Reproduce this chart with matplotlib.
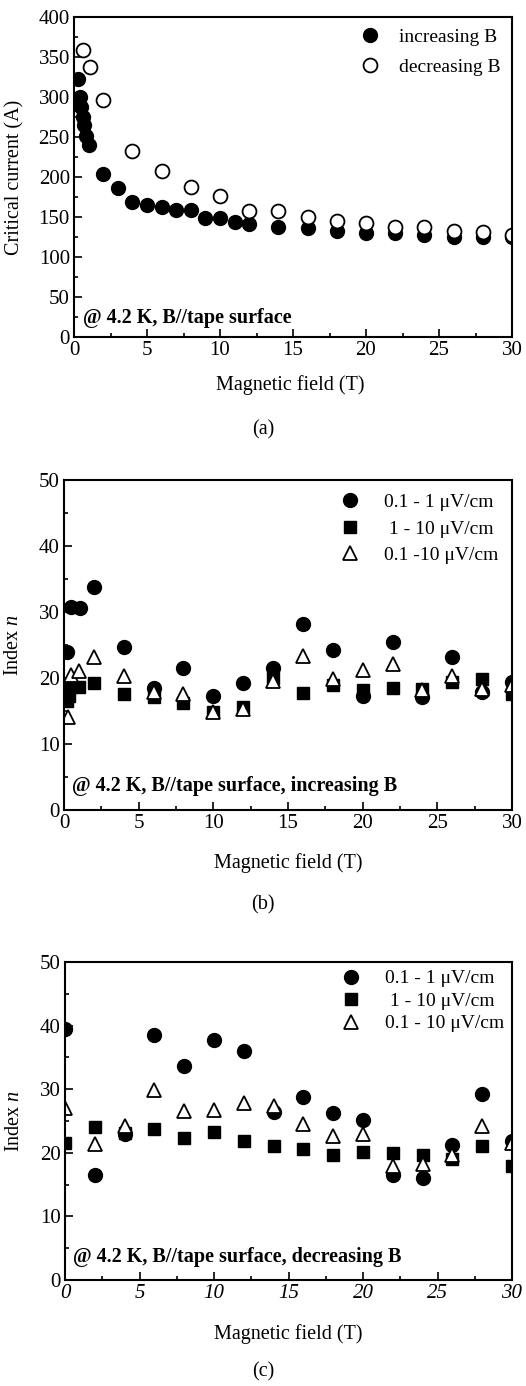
import matplotlib
matplotlib.use("Agg")
import matplotlib.pyplot as plt
from matplotlib.ticker import MultipleLocator

plt.rcParams["font.family"] = ["Liberation Serif", "DejaVu Serif"]
plt.rcParams["mathtext.fontset"] = "custom"
plt.rcParams["mathtext.rm"] = "Liberation Serif"
plt.rcParams["mathtext.it"] = "Liberation Serif:italic"

# ── (a) critical current vs field ────────────────────────────────────────────
B_inc = [0.3, 0.4, 0.5, 0.6, 0.7, 0.8, 1.0, 2, 3, 4, 5, 6, 7, 8, 9, 10, 11, 12,
         14, 16, 18, 20, 22, 24, 26, 28, 30]
Ic_inc = [322, 300, 288, 275, 265, 251, 240, 204, 186, 169, 165, 163, 159, 159,
          149, 149, 144, 141, 138, 136, 133, 130, 130, 128, 125, 125, 125]
B_dec = [0.6, 1.1, 2, 4, 6, 8, 10, 12, 14, 16, 18, 20, 22, 24, 26, 28, 30]
Ic_dec = [359, 338, 296, 233, 208, 188, 176, 157, 157, 150, 145, 142, 138, 137,
          133, 131, 127]

# ── (b) index n, increasing B ────────────────────────────────────────────────
Bb_c = [0.2, 0.5, 1.1, 2, 4, 6, 8, 10, 12, 14, 16, 18, 20, 22, 24, 26, 28, 30]
nb_c = [24.0, 30.8, 30.6, 33.8, 24.7, 18.5, 21.5, 17.3, 19.2, 21.5, 28.2, 24.2,
        17.2, 25.4, 17.1, 23.2, 17.9, 19.4]
Bb_s = [0.2, 0.35, 0.5, 1, 2, 4, 6, 8, 10, 12, 14, 16, 18, 20, 22, 24, 26, 28, 30]
nb_s = [16.5, 17.3, 18.7, 18.6, 19.3, 17.6, 17.1, 16.2, 14.8, 15.6, 20.0, 17.7,
        18.9, 18.2, 18.5, 18.4, 19.4, 19.8, 17.6]
Bb_t = [0.25, 0.5, 1, 2, 4, 6, 8, 10, 12, 14, 16, 18, 20, 22, 24, 26, 28, 30]
nb_t = [14.1, 20.4, 21.1, 23.2, 20.3, 17.9, 17.6, 14.9, 15.3, 19.6, 23.3, 19.8,
        21.2, 22.1, 18.2, 20.3, 18.3, 18.9]

# ── (c) index n, decreasing B ────────────────────────────────────────────────
Bc = [0, 2, 4, 6, 8, 10, 12, 14, 16, 18, 20, 22, 24, 26, 28, 30]
nc_c = [39.4, 16.5, 23.0, 38.6, 33.6, 37.8, 36.0, 26.4, 28.7, 26.2, 25.2, 16.5,
        16.0, 21.2, 29.2, 21.8]
nc_s = [21.5, 24.1, 23.1, 23.7, 22.4, 23.3, 21.8, 21.0, 20.6, 19.6, 20.2, 19.9,
        19.6, 19.1, 21.1, 17.9]
nc_t = [27.1, 21.4, 24.2, 29.9, 26.5, 26.7, 27.9, 27.3, 24.6, 22.6, 23.0, 18.0,
        18.3, 19.6, 24.2, 21.6]

labels_b = ["0.1 - 1 \u03bcV/cm", " 1 - 10 \u03bcV/cm", "0.1 -10 \u03bcV/cm"]
labels_c = ["0.1 - 1 \u03bcV/cm", " 1 - 10 \u03bcV/cm", "0.1 - 10 \u03bcV/cm"]

W, H = 526, 1386
fig = plt.figure(figsize=(W / 100, H / 100), dpi=100)


def px_axes(left, right, top, bottom):
    return fig.add_axes([left / W, 1 - bottom / H, (right - left) / W,
                         (bottom - top) / H])


def style(ax, ymax, ymaj, ymin):
    ax.set_xlim(0, 30)
    ax.set_ylim(0, ymax)
    ax.xaxis.set_major_locator(MultipleLocator(5))
    ax.xaxis.set_minor_locator(MultipleLocator(2.5))
    ax.yaxis.set_major_locator(MultipleLocator(ymaj))
    ax.yaxis.set_minor_locator(MultipleLocator(ymin))
    ax.tick_params(which="both", direction="in", top=False, right=False,
                   labelsize=15, width=1.2)
    ax.tick_params(which="major", length=6, pad=3)
    ax.tick_params(which="minor", length=3)
    for s in ax.spines.values():
        s.set_linewidth(1.5)


ms = 10

# (a)
ax1 = px_axes(74, 512, 17, 337)
ax1.plot(B_inc, Ic_inc, "o", color="black", ms=ms, label="increasing B")
ax1.plot(B_dec, Ic_dec, "o", mfc="white", mec="black", mew=1.3, ms=ms,
         label="decreasing B")
style(ax1, 400, 50, 25)
ax1.set_xlabel("Magnetic field (T)", fontsize=14.5)
ax1.set_ylabel("Critical current (A)", fontsize=14.5)
ax1.xaxis.set_label_coords(0.494, -0.119)
ax1.yaxis.set_label_coords(-0.114, 0.5)
ax1.legend(loc="upper right", frameon=False, fontsize=14, handletextpad=0.9,
           borderaxespad=0.2, labelspacing=0.6, handlelength=1.2)
ax1.text(0.02, 0.06, "@ 4.2 K, B//tape surface", transform=ax1.transAxes,
         fontsize=14.5, fontweight="bold", va="center")
fig.text(263 / W, 1 - 430 / H, "(a)", fontsize=14.5, ha="center", va="center")


def index_panel(ax, xc, yc, xs, ys, xt, yt, labels, note, spacing, pad):
    ax.plot(xc, yc, "o", color="black", ms=ms, label=labels[0])
    ax.plot(xs, ys, "s", color="black", ms=8.5, label=labels[1])
    ax.plot(xt, yt, "^", mfc="white", mec="black", mew=1.3, ms=10.5,
            label=labels[2])
    style(ax, 50, 10, 5)
    ax.set_xlabel("Magnetic field (T)", fontsize=14.5)
    ax.set_ylabel("Index $n$", fontsize=14.5)
    ax.legend(loc="upper right", frameon=False, fontsize=14, handletextpad=1.15,
              borderaxespad=pad, labelspacing=spacing, handlelength=1.2)
    ax.text(0.018, 0.072, note, transform=ax.transAxes, fontsize=14.5,
            fontweight="bold", va="center")


# (b)
ax2 = px_axes(64, 512, 480, 810)
index_panel(ax2, Bb_c, nb_c, Bb_s, nb_s, Bb_t, nb_t, labels_b,
            "@ 4.2 K, B//tape surface, increasing B", 0.45, 0.3)
ax2.xaxis.set_label_coords(0.5, -0.13)
ax2.yaxis.set_label_coords(-0.0915, 0.5)
fig.text(263 / W, 1 - 905 / H, "(b)", fontsize=14.5, ha="center", va="center")

# (c)
ax3 = px_axes(65, 512, 962, 1280)
index_panel(ax3, Bc, nc_c, Bc, nc_s, Bc, nc_t, labels_c,
            "@ 4.2 K, B//tape surface, decreasing B", 0.25, 0.0)
ax3.xaxis.set_label_coords(0.5, -0.138)
ax3.yaxis.set_label_coords(-0.092, 0.5)
for t in ax3.get_xticklabels():
    t.set_fontstyle("italic")
fig.text(263 / W, 1 - 1372 / H, "(c)", fontsize=14.5, ha="center", va="center")

fig.savefig("out.png", dpi=100)
